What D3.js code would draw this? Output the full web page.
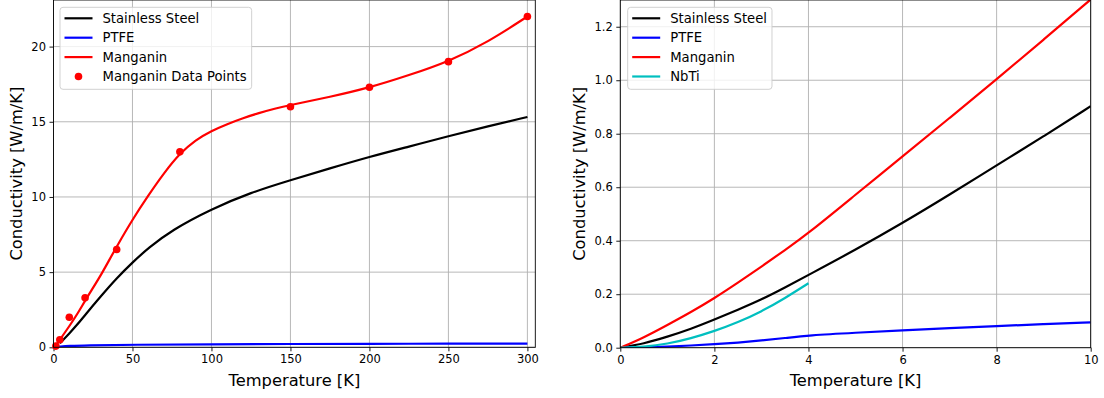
<!DOCTYPE html>
<html>
<head>
<meta charset="utf-8">
<script src="https://cdn.jsdelivr.net/npm/d3@7"></script>
<style>
  html, body { margin: 0; padding: 0; background: #fff; }
  svg { display: block; font-family: "DejaVu Sans", sans-serif; }
</style>
</head>
<body>
<svg id="chart" width="1104" height="398"></svg>
<script>
// ---- Full temperature range (0–300 K) ----
const ssTempFull = [4, 10, 15, 20, 30, 40, 50, 60, 75, 100, 125, 150, 175, 200, 225, 250, 275, 300];
const ssCondFull = [0.27, 0.92, 1.5, 2.15, 3.4, 4.6, 5.65, 6.6, 7.8, 9.2, 10.3, 11.12, 11.9, 12.67, 13.35, 14.04, 14.7, 15.32];

const ptfeTempFull = [0, 4, 10, 20, 50, 100, 150, 200, 250, 300];
const ptfeCondFull = [0, 0.046, 0.095, 0.13, 0.17, 0.2, 0.22, 0.23, 0.24, 0.25];

const mnTempFull = [1, 4, 10, 15, 20, 25, 30, 35, 40, 50, 60, 70, 80, 90, 100, 110, 120, 130, 140, 150, 175, 200, 225, 250, 275, 300];
const mnCondFull = [0.05, 0.5, 1.4, 2.2, 3.1, 3.95, 4.8, 5.75, 6.7, 8.5, 10.1, 11.6, 12.9, 13.8, 14.4, 14.85, 15.25, 15.58, 15.87, 16.12, 16.65, 17.27, 18.1, 19.0, 20.3, 22.0];

const mnPointTemp = [1.5, 4, 10, 20, 40, 80, 150, 200, 250, 300];
const mnPointCond = [0.08, 0.5, 2.0, 3.3, 6.5, 13.0, 16.0, 17.3, 19.0, 22.0];

// ---- Low temperature range (0–10 K) ----
const lowTemp = [0, 0.5, 1, 1.5, 2, 2.5, 3, 3.5, 4, 5, 6, 7, 8, 9, 10];
const ssCondLow = [0, 0.015, 0.041, 0.07, 0.105, 0.142, 0.18, 0.225, 0.272, 0.366, 0.466, 0.572, 0.682, 0.79, 0.903];
const ptfeCondLow = [0, 0.001, 0.004, 0.008, 0.013, 0.019, 0.027, 0.036, 0.046, 0.056, 0.065, 0.073, 0.081, 0.088, 0.095];
const mnCondLow = [0, 0.038, 0.085, 0.133, 0.185, 0.243, 0.303, 0.365, 0.428, 0.572, 0.715, 0.859, 1.003, 1.152, 1.302];
const nbtiTemp = [0, 0.5, 1, 1.5, 2, 2.5, 3, 3.5, 4];
const nbtiCond = [0, 0.003, 0.014, 0.035, 0.062, 0.095, 0.135, 0.185, 0.241];

// ---- Axis ticks ----
const xTicksFull = [0, 50, 100, 150, 200, 250, 300];
const yTicksFull = [0, 5, 10, 15, 20];
const xTicksLow = [0, 2, 4, 6, 8, 10];
const yTicksLow = [0, 0.2, 0.4, 0.6, 0.8, 1.0, 1.2];

const COLORS = { ss: "#000000", ptfe: "#0000ff", mn: "#ff0000", nbti: "#00bfbf" };

const svg = d3.select("#chart");

function zip(xs, ys) { return xs.map((x, i) => [x, ys[i]]); }

function panel(cfg) {
  const g = svg.append("g");
  const x = d3.scaleLinear().domain(cfg.xDomain).range([cfg.left, cfg.right]);
  const y = d3.scaleLinear().domain(cfg.yDomain).range([cfg.bottom, cfg.top]);

  const clipId = "clip-" + cfg.id;
  svg.append("defs").append("clipPath").attr("id", clipId)
    .append("rect")
    .attr("x", cfg.left).attr("y", cfg.top)
    .attr("width", cfg.right - cfg.left).attr("height", cfg.bottom - cfg.top);

  // grid
  const grid = g.append("g").attr("stroke", "#b0b0b0").attr("stroke-width", 0.9);
  cfg.xTicks.forEach(t => grid.append("line")
    .attr("x1", x(t)).attr("x2", x(t)).attr("y1", cfg.top).attr("y2", cfg.bottom));
  cfg.yTicks.forEach(t => grid.append("line")
    .attr("x1", cfg.left).attr("x2", cfg.right).attr("y1", y(t)).attr("y2", y(t)));

  // axes
  const xAxis = d3.axisBottom(x).tickValues(cfg.xTicks).tickFormat(cfg.xFmt)
    .tickSizeInner(4).tickSizeOuter(0).tickPadding(3);
  const yAxis = d3.axisLeft(y).tickValues(cfg.yTicks).tickFormat(cfg.yFmt)
    .tickSizeInner(4).tickSizeOuter(0).tickPadding(3.5);
  const gx = g.append("g").attr("transform", `translate(0,${cfg.bottom})`).call(xAxis);
  const gy = g.append("g").attr("transform", `translate(${cfg.left},0)`).call(yAxis);
  [gx, gy].forEach(a => {
    a.select(".domain").remove();
    a.selectAll("text").attr("font-size", 11.5).attr("font-family", "DejaVu Sans").attr("fill", "#000");
    a.selectAll("line").attr("stroke", "#000").attr("stroke-width", 0.9);
  });
  gx.selectAll("text").attr("dy", "0.78em");

  // series (smoothed through the sampled values)
  const plot = g.append("g").attr("clip-path", `url(#${clipId})`);
  const line = d3.line().x(d => x(d[0])).y(d => y(d[1])).curve(d3.curveBasis);
  cfg.series.forEach(s => {
    plot.append("path").datum(zip(s.xs, s.ys))
      .attr("d", line).attr("fill", "none")
      .attr("stroke", s.color).attr("stroke-width", 2.2)
      .attr("stroke-linejoin", "round").attr("stroke-linecap", "butt");
  });
  if (cfg.points) {
    g.append("g").selectAll("circle").data(zip(cfg.points.xs, cfg.points.ys)).join("circle")
      .attr("cx", d => x(d[0])).attr("cy", d => y(d[1])).attr("r", 3.8)
      .attr("fill", cfg.points.color);
  }

  // frame
  g.append("rect")
    .attr("x", cfg.left).attr("y", cfg.top)
    .attr("width", cfg.right - cfg.left).attr("height", cfg.bottom - cfg.top)
    .attr("fill", "none").attr("stroke", "#000").attr("stroke-width", 0.9);

  // axis labels
  g.append("text")
    .attr("x", (cfg.left + cfg.right) / 2).attr("y", 385.5)
    .attr("text-anchor", "middle").attr("font-size", 16.3).text("Temperature [K]");
  g.append("text")
    .attr("transform", `translate(${cfg.ylabelX},${(cfg.top + cfg.bottom) / 2}) rotate(-90)`)
    .attr("text-anchor", "middle").attr("font-size", 16.3).text("Conductivity [W/m/K]");

  // legend
  const lg = g.append("g");
  const box = lg.append("rect")
    .attr("x", cfg.legend.x).attr("y", 7.3).attr("rx", 3).attr("ry", 3)
    .attr("fill", "#fff").attr("fill-opacity", 0.8)
    .attr("stroke", "#cccccc").attr("stroke-width", 0.9);
  let maxW = 0;
  cfg.legend.items.forEach((it, i) => {
    const cy = 18.3 + i * 19.4;
    const hx = cfg.legend.x + 4.5;
    if (it.kind === "point") {
      lg.append("circle").attr("cx", hx + 14).attr("cy", cy).attr("r", 3.8).attr("fill", it.color);
    } else {
      lg.append("line").attr("x1", hx).attr("x2", hx + 28).attr("y1", cy).attr("y2", cy)
        .attr("stroke", it.color).attr("stroke-width", 2.2);
    }
    const t = lg.append("text").attr("x", hx + 38).attr("y", cy).attr("dy", "0.36em")
      .attr("font-size", 13.2).text(it.label);
    maxW = Math.max(maxW, t.node().getComputedTextLength());
  });
  box.attr("width", 42.5 + maxW + 5).attr("height", 82);
}

panel({
  id: "full", left: 53.5, right: 535.3, top: 0, bottom: 347.3,
  xDomain: [0, 305], yDomain: [0, 23.1],
  xTicks: xTicksFull, yTicks: yTicksFull,
  xFmt: d3.format("d"), yFmt: d3.format("d"),
  ylabelX: 22,
  series: [
    { xs: ssTempFull, ys: ssCondFull, color: COLORS.ss },
    { xs: ptfeTempFull, ys: ptfeCondFull, color: COLORS.ptfe },
    { xs: mnTempFull, ys: mnCondFull, color: COLORS.mn }
  ],
  points: { xs: mnPointTemp, ys: mnPointCond, color: COLORS.mn },
  legend: { x: 60, items: [
    { label: "Stainless Steel", color: COLORS.ss },
    { label: "PTFE", color: COLORS.ptfe },
    { label: "Manganin", color: COLORS.mn },
    { label: "Manganin Data Points", color: COLORS.mn, kind: "point" }
  ] }
});

panel({
  id: "low", left: 620.3, right: 1090.7, top: 0, bottom: 347.7,
  xDomain: [0, 10], yDomain: [0, 1.3],
  xTicks: xTicksLow, yTicks: yTicksLow,
  xFmt: d3.format("d"), yFmt: d3.format(".1f"),
  ylabelX: 585,
  series: [
    { xs: lowTemp, ys: ssCondLow, color: COLORS.ss },
    { xs: lowTemp, ys: ptfeCondLow, color: COLORS.ptfe },
    { xs: lowTemp, ys: mnCondLow, color: COLORS.mn },
    { xs: nbtiTemp, ys: nbtiCond, color: COLORS.nbti }
  ],
  legend: { x: 627.7, items: [
    { label: "Stainless Steel", color: COLORS.ss },
    { label: "PTFE", color: COLORS.ptfe },
    { label: "Manganin", color: COLORS.mn },
    { label: "NbTi", color: COLORS.nbti }
  ] }
});
</script>
</body>
</html>
